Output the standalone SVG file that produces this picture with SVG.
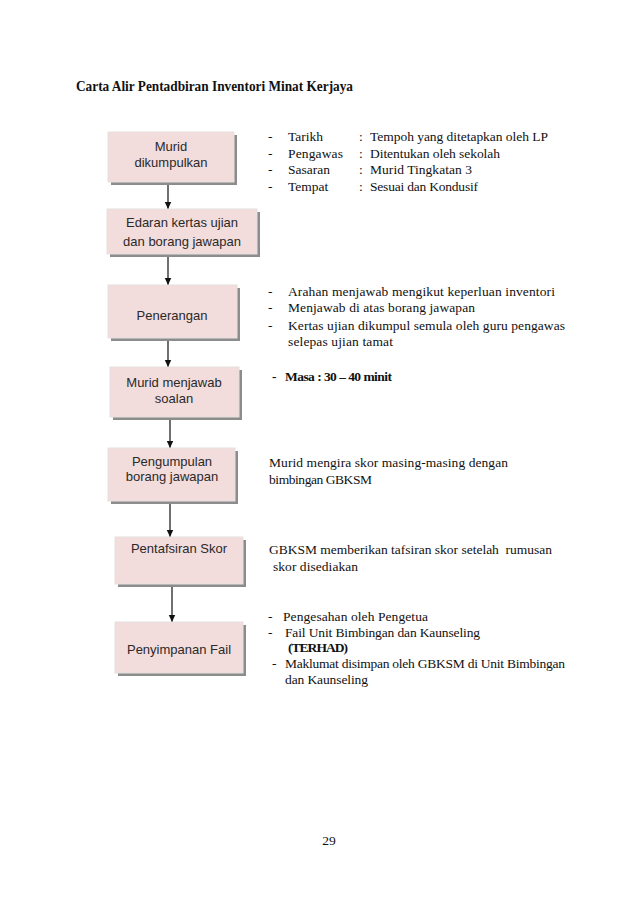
<svg xmlns="http://www.w3.org/2000/svg" width="638" height="903" viewBox="0 0 638 903">
<style>
.shadow{fill:#8c8c8c}
.box{fill:#f2dcdc;stroke:#e6e0e0;stroke-width:1}
.bt{font-family:"Liberation Sans",Arial,sans-serif;font-size:13px;fill:#2a2a2a;text-anchor:middle}
.rt{font-family:"Liberation Serif","Times New Roman",serif;font-size:13.5px;fill:#111}
.b{font-weight:bold}
.title{font-family:"Liberation Serif","Times New Roman",serif;font-size:14.5px;font-weight:bold;fill:#111}
.conn{stroke:#111;stroke-width:1.2;fill:none}
</style>
<defs>
<marker id="ah" markerWidth="8" markerHeight="8" refX="7" refY="4" orient="auto" markerUnits="userSpaceOnUse">
<path d="M0,0.8 L7,4 L0,7.2 Z" fill="#111"/>
</marker>
</defs>
<rect width="638" height="903" fill="#ffffff"/>
<text class="title" x="76" y="91" textLength="277" lengthAdjust="spacingAndGlyphs">Carta Alir Pentadbiran Inventori Minat Kerjaya</text>

<g id="connectors">
<line class="conn" x1="168" y1="182" x2="168" y2="209" marker-end="url(#ah)"/>
<line class="conn" x1="168" y1="254" x2="168" y2="285" marker-end="url(#ah)"/>
<line class="conn" x1="168" y1="338" x2="168" y2="367" marker-end="url(#ah)"/>
<line class="conn" x1="170" y1="417" x2="170" y2="448" marker-end="url(#ah)"/>
<line class="conn" x1="170" y1="501" x2="170" y2="537" marker-end="url(#ah)"/>
<line class="conn" x1="172" y1="587" x2="172" y2="622" marker-end="url(#ah)"/>
</g>

<g id="n1">
<rect class="shadow" x="111" y="135" width="126" height="50"/>
<rect class="box" x="108" y="132" width="126" height="50"/>
<text class="bt" x="171" y="151">Murid</text>
<text class="bt" x="171" y="167">dikumpulkan</text>
</g>
<g id="n2">
<rect class="shadow" x="110" y="212" width="150" height="45"/>
<rect class="box" x="107" y="209" width="150" height="45"/>
<text class="bt" x="182" y="227">Edaran kertas ujian</text>
<text class="bt" x="182" y="246">dan borang jawapan</text>
</g>
<g id="n3">
<rect class="shadow" x="111" y="288" width="129" height="53"/>
<rect class="box" x="108" y="285" width="129" height="53"/>
<text class="bt" x="172" y="320">Penerangan</text>
</g>
<g id="n4">
<rect class="shadow" x="113" y="370" width="129" height="50"/>
<rect class="box" x="110" y="367" width="129" height="50"/>
<text class="bt" x="174" y="387">Murid menjawab</text>
<text class="bt" x="174" y="403">soalan</text>
</g>
<g id="n5">
<rect class="shadow" x="111" y="451" width="127" height="53"/>
<rect class="box" x="108" y="448" width="127" height="53"/>
<text class="bt" x="172" y="466">Pengumpulan</text>
<text class="bt" x="172" y="481">borang jawapan</text>
</g>
<g id="n6">
<rect class="shadow" x="118" y="540" width="128" height="47"/>
<rect class="box" x="115" y="537" width="128" height="47"/>
<text class="bt" x="179" y="553">Pentafsiran Skor</text>
</g>
<g id="n7">
<rect class="shadow" x="118" y="625" width="128" height="51"/>
<rect class="box" x="115" y="622" width="128" height="51"/>
<text class="bt" x="179" y="654">Penyimpanan Fail</text>
</g>

<g id="notes">
<text class="rt" x="268" y="141">-</text><text class="rt" x="288" y="141">Tarikh</text><text class="rt" x="359" y="141">:</text><text class="rt" x="370" y="141" textLength="178">Tempoh yang ditetapkan oleh LP</text>
<text class="rt" x="268" y="158">-</text><text class="rt" x="288" y="158" textLength="55">Pengawas</text><text class="rt" x="359" y="158">:</text><text class="rt" x="370" y="158" textLength="130">Ditentukan oleh sekolah</text>
<text class="rt" x="268" y="174">-</text><text class="rt" x="288" y="174">Sasaran</text><text class="rt" x="359" y="174">:</text><text class="rt" x="370" y="174" textLength="102">Murid Tingkatan 3</text>
<text class="rt" x="268" y="191">-</text><text class="rt" x="288" y="191">Tempat</text><text class="rt" x="359" y="191">:</text><text class="rt" x="370" y="191" textLength="108">Sesuai dan Kondusif</text>

<text class="rt" x="268" y="296">-</text><text class="rt" x="288" y="296" textLength="267">Arahan menjawab mengikut keperluan inventori</text>
<text class="rt" x="268" y="312">-</text><text class="rt" x="288" y="312" textLength="187">Menjawab di atas borang jawapan</text>
<text class="rt" x="268" y="330">-</text><text class="rt" x="288" y="330" textLength="277">Kertas ujian dikumpul semula oleh guru pengawas</text>
<text class="rt" x="288" y="346" textLength="105">selepas ujian tamat</text>
<text class="rt b" x="272" y="381">-</text><text class="rt b" x="285" y="381" textLength="107">Masa : 30 – 40 minit</text>

<text class="rt" x="269" y="467" textLength="239">Murid mengira skor masing-masing dengan</text>
<text class="rt" x="269" y="484" textLength="103">bimbingan GBKSM</text>

<text class="rt" x="269" y="554" textLength="283" xml:space="preserve">GBKSM memberikan tafsiran skor setelah  rumusan</text>
<text class="rt" x="273" y="571" textLength="85">skor disediakan</text>

<text class="rt" x="268" y="621">-</text><text class="rt" x="283" y="621" textLength="145">Pengesahan oleh Pengetua</text>
<text class="rt" x="268" y="637">-</text><text class="rt" x="285" y="637" textLength="195">Fail Unit Bimbingan dan Kaunseling</text>
<text class="rt b" x="288" y="652" textLength="60">(TERHAD)</text>
<text class="rt" x="272" y="668">-</text><text class="rt" x="285" y="668" textLength="280">Maklumat disimpan oleh GBKSM di Unit Bimbingan</text>
<text class="rt" x="285" y="684" textLength="83">dan Kaunseling</text>
</g>

<text class="rt" x="329" y="845" text-anchor="middle">29</text>
</svg>
